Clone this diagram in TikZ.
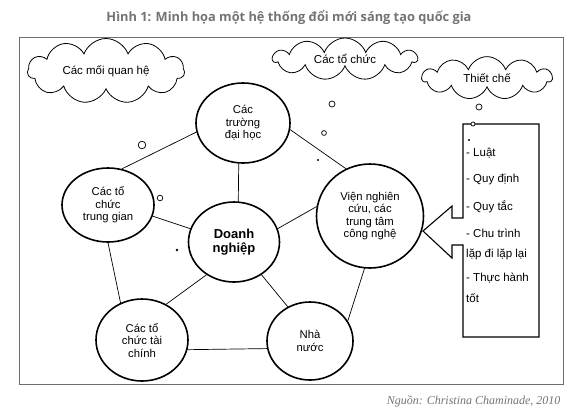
\documentclass[tikz,border=0pt]{standalone}
\usepackage{fontspec}
\setmainfont{Liberation Sans}
\newfontfamily\titlefont{Open Sans}
\newfontfamily\srcfont{Liberation Serif}
\usetikzlibrary{shapes.geometric,shapes.symbols}
\definecolor{titlegray}{RGB}{115,115,115}
\definecolor{framegray}{RGB}{110,110,110}

\begin{document}
\begin{tikzpicture}[x=1pt,y=-1pt,line cap=round,
  actor/.style={ellipse,draw,line width=1.6pt,minimum width=92pt,minimum height=80pt,inner sep=0pt,align=center,font=\fontsize{11.3}{12.5}\selectfont},
  tie/.style={line width=0.7pt},
  cloudbox/.style={cloud,draw,line width=0.8pt,cloud puffs=11,cloud puff arc=140,cloud ignores aspect,inner xsep=2pt,inner ysep=6pt,font=\fontsize{11.5}{13}\selectfont},
  rule/.style={anchor=west,inner sep=0pt,font=\fontsize{11.5}{13}\selectfont},
  bubble/.style={line width=0.7pt}]
\useasboundingbox (0,0) rectangle (577,413);
\node[text=titlegray,font=\titlefont\bfseries\fontsize{12.8}{14}\selectfont] (title) at (289,17) {Hình 1: Minh họa một hệ thống đổi mới sáng tạo quốc gia};
\draw[framegray,line width=0.8pt] (19,37) rectangle (563,384);
\node[anchor=east,text=titlegray,font=\srcfont\itshape\fontsize{12}{14}\selectfont] (src) at (564,401) {Nguồn: Christina Chaminade, 2010};

% clouds
\node[cloudbox,minimum width=157pt,inner ysep=9pt] (links) at (106,71) {Các mối quan hệ};
\node[cloudbox,minimum width=144pt,inner ysep=4pt] (orgs) at (345,59) {Các tổ chức};
\node[cloudbox,minimum width=130pt] (inst) at (487,78) {Thiết chế};

% thought bubbles
\draw[bubble] (142,145) circle (3.8);
\draw[bubble] (160,198) circle (2.8);
\fill (177,250) circle (1.3);
\draw[bubble] (332,104) circle (3);
\draw[bubble] (324,133) circle (2.4);
\fill (318,160) circle (1.1);
\draw[bubble] (479,107) circle (3);
\fill (469,140) circle (1.1);

% actors
\node[actor,minimum width=94pt] (uni) at (243,123) {Các\\trường\\đại học};
\node[actor,minimum width=107pt,minimum height=104pt] (rnd) at (370,216) {Viện nghiên\\cứu, các\\trung tâm\\công nghệ};
\node[actor,minimum width=91pt,font=\bfseries\fontsize{13}{14.5}\selectfont] (firm) at (234,242) {Doanh\\nghiệp};
\node[actor,minimum height=74pt] (mid) at (108,205) {Các tổ\\chức\\trung gian};
\node[actor,minimum height=82pt] (fin) at (142,340) {Các tổ\\chức tài\\chính};
\node[actor,minimum width=86pt,minimum height=78pt] (gov) at (310,341) {Nhà\\nước};

% links
\draw[tie] (uni.191) -- (mid.69);
\draw[tie] (uni.-96) -- (firm.84);
\draw[tie] (uni.-8) -- (rnd.117);
\draw[tie] (mid.-14) -- (firm.163);
\draw[tie] (firm.17) -- (rnd.170);
\draw[tie] (mid.-90) -- (fin.120);
\draw[tie] (firm.230) -- (fin.56);
\draw[tie] (firm.-50) -- (gov.123);
\draw[tie] (rnd.-96) -- (gov.28);
\draw[tie] (fin.-12) -- (gov.190);

% callout with rules
\draw[line width=1.1pt,line join=miter] (463,124) -- (539,124) -- (539,337) -- (463,337) -- (463,245) -- (452,245) -- (452,258) -- (423,231) -- (452,206) -- (452,218) -- (463,218) -- cycle;
\draw[bubble,fill=white] (473,124) circle (2);
\node[rule] (r1) at (466,153) {- Luật};
\node[rule] (r2) at (466,180) {- Quy định};
\node[rule] (r3) at (466,207) {- Quy tắc};
\node[rule] (r4) at (466,233) {- Chu trình};
\node[rule] (r5) at (466,254) {lặp đi lặp lại};
\node[rule] (r6) at (466,278) {- Thực hành};
\node[rule] (r7) at (466,298) {tốt};
\end{tikzpicture}
\end{document}
